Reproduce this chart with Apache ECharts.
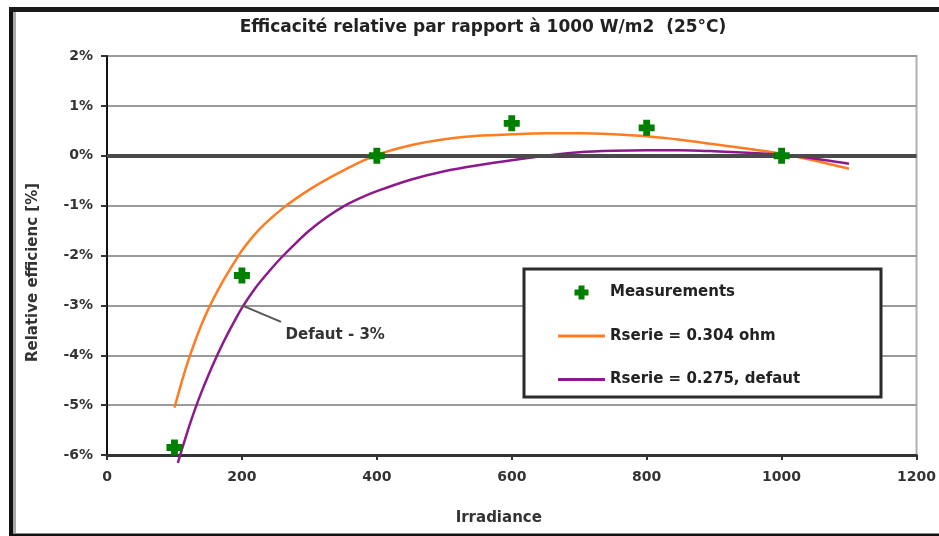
<!DOCTYPE html>
<html>
<head>
<meta charset="utf-8">
<script src="https://cdn.jsdelivr.net/npm/echarts@6/dist/echarts.min.js"></script>
<style>
  html, body { margin: 0; padding: 0; background: #fff; overflow: hidden; }
  #chart { width: 939px; height: 536px; }
</style>
</head>
<body>
<div id="chart"></div>
<script>
// Measured relative efficiency vs. irradiance (reference: 1000 W/m2, 25°C)
const measIrr = [100, 200, 400, 600, 800, 1000];
const measEff = [-5.85, -2.4, 0, 0.65, 0.56, 0];

// Model with Rserie = 0.304 ohm
const fitAIrr = [100, 110, 120, 130, 140, 150, 160, 170, 180, 190, 200, 220, 240, 260, 280, 300, 325, 350, 375, 400,
                 450, 500, 550, 600, 650, 700, 750, 800, 850, 900, 950, 1000, 1050, 1100];
const fitAEff = [-5.05, -4.57, -4.13, -3.74, -3.39, -3.08, -2.81, -2.56, -2.33, -2.11, -1.9, -1.56, -1.29, -1.06, -0.86,
                 -0.68, -0.48, -0.3, -0.13, 0.02, 0.21, 0.33, 0.4, 0.43, 0.45, 0.45, 0.43, 0.39, 0.32, 0.23, 0.14,
                 0.04, -0.1, -0.26];

// Model with Rserie = 0.275 (default)
const fitBIrr = [105, 110, 120, 130, 140, 150, 160, 170, 180, 190, 200, 220, 240, 260, 280, 300, 325, 350, 375, 400,
                 450, 500, 550, 600, 650, 700, 750, 800, 850, 900, 950, 1000, 1050, 1100];
const fitBEff = [-6.16, -5.93, -5.5, -5.1, -4.74, -4.41, -4.1, -3.81, -3.54, -3.29, -3.05, -2.65, -2.32, -2.02, -1.75,
                 -1.5, -1.24, -1.02, -0.85, -0.71, -0.48, -0.31, -0.19, -0.09, 0.0, 0.07, 0.1, 0.11, 0.11, 0.09, 0.06,
                 0.02, -0.06, -0.16];

// Annotation for the default model at 200 W/m2
const noteFrom = [200, -3.0];
const noteTo = [258, -3.33];
const noteAt = [264, -3.6];
const noteText = 'Defaut - 3%';

const xTicks = { min: 0, max: 1200, step: 200 };
const yTicks = { min: -6, max: 2, step: 1 };

const names = ['Measurements', 'Rserie = 0.304 ohm', 'Rserie = 0.275, defaut'];
const titleText = 'Efficacité relative par rapport à 1000 W/m2  (25°C)';

const FONT = '"DejaVu Sans", Arial, sans-serif';
const plusPath = 'path://M4,0H10V4H14V10H10V14H4V10H0V4H4Z';
const lineIcon = 'path://M0,0H47V3H0Z';

const zip = (xs, ys) => xs.map((x, i) => [x, ys[i]]);

const chart = echarts.init(document.getElementById('chart'), null, { renderer: 'canvas', width: 939, height: 536 });

chart.setOption({
  backgroundColor: '#fff',
  animation: false,
  title: {
    text: titleText,
    left: 478,
    textAlign: 'center',
    top: 14,
    textStyle: { fontFamily: FONT, fontSize: 17, fontWeight: 'bold', color: '#222' }
  },
  grid: {
    left: 107, right: 15, top: 56, bottom: 81,
    show: true, borderColor: '#b0b0b0', borderWidth: 2, backgroundColor: 'transparent'
  },
  xAxis: {
    type: 'value',
    min: xTicks.min, max: xTicks.max, interval: xTicks.step,
    name: 'Irradiance',
    nameLocation: 'middle',
    nameGap: 56,
    nameTextStyle: { fontFamily: FONT, fontSize: 15, fontWeight: 'bold', color: '#333', padding: [0, 26, 0, 0] },
    axisLine: { show: true, onZero: false, lineStyle: { color: '#333', width: 3 } },
    axisTick: { show: true, inside: false, length: 5, lineStyle: { color: '#333', width: 2 } },
    axisLabel: { margin: 15, fontFamily: FONT, fontSize: 14, fontWeight: 'bold', color: '#333',
                 showMaxLabel: true, formatter: v => String(v) },
    splitLine: { show: false }
  },
  yAxis: {
    type: 'value',
    min: yTicks.min, max: yTicks.max, interval: yTicks.step,
    name: 'Relative efficienc [%]',
    nameLocation: 'middle',
    nameGap: 66,
    nameRotate: 90,
    nameTextStyle: { fontFamily: FONT, fontSize: 15, fontWeight: 'bold', color: '#333', padding: [0, 34, 0, 0] },
    axisLine: { show: true, onZero: false, lineStyle: { color: '#111', width: 2 } },
    axisTick: { show: true, inside: false, length: 6, lineStyle: { color: '#333', width: 2 } },
    axisLabel: { margin: 14, fontFamily: FONT, fontSize: 14, fontWeight: 'bold', color: '#333',
                 formatter: v => v + '%' },
    splitLine: { show: true, lineStyle: { color: '#9a9a9a', width: 2 } }
  },
  legend: {
    data: [
      { name: names[0], icon: plusPath },
      { name: names[1], icon: lineIcon },
      { name: names[2], icon: lineIcon }
    ],
    orient: 'vertical',
    left: 558,
    top: 285,
    padding: 0,
    itemWidth: 47,
    itemHeight: 14,
    itemGap: 28.5,
    z: 60,
    textStyle: { fontFamily: FONT, fontSize: 15, fontWeight: 'bold', color: '#222' },
    selectedMode: false
  },
  graphic: [
    {
      type: 'rect', z: 50,
      shape: { x: 524, y: 269, width: 357, height: 128 },
      style: { fill: '#fff', stroke: '#2b2b2b', lineWidth: 3 }
    },
    // outer frame: left, top and bottom edges
    { type: 'line', z: 50, shape: { x1: 11, y1: 7, x2: 11, y2: 536 }, style: { stroke: '#111', lineWidth: 4 } },
    { type: 'line', z: 50, shape: { x1: 9, y1: 9.5, x2: 939, y2: 9.5 }, style: { stroke: '#1a1a1a', lineWidth: 5 } },
    { type: 'line', z: 50, shape: { x1: 9, y1: 535, x2: 939, y2: 535 }, style: { stroke: '#111', lineWidth: 3 } },
    { type: 'line', z: 50, shape: { x1: 14.5, y1: 12, x2: 14.5, y2: 533 }, style: { stroke: '#aaa', lineWidth: 3 } }
  ],
  series: [
    {
      // zero reference line
      type: 'line',
      data: [],
      z: 1,
      silent: true,
      markLine: {
        silent: true,
        symbol: 'none',
        label: { show: false },
        lineStyle: { color: '#4a4a4a', width: 4, type: 'solid' },
        data: [{ yAxis: 0 }]
      }
    },
    {
      name: names[1],
      type: 'line',
      data: zip(fitAIrr, fitAEff),
      smooth: 0.25,
      showSymbol: false,
      symbol: 'none',
      z: 3,
      lineStyle: { color: '#ff7d22', width: 2.5 },
      itemStyle: { color: '#ff7d22' }
    },
    {
      name: names[2],
      type: 'line',
      data: zip(fitBIrr, fitBEff),
      smooth: 0.25,
      showSymbol: false,
      symbol: 'none',
      clip: false,
      z: 3,
      lineStyle: { color: '#8c1a8c', width: 2.5 },
      itemStyle: { color: '#8c1a8c' },
      markLine: {
        silent: true,
        symbol: 'none',
        label: { show: false },
        lineStyle: { color: '#555', width: 2, type: 'solid' },
        data: [[{ coord: noteFrom }, { coord: noteTo }]]
      },
      markPoint: {
        silent: true,
        symbol: 'circle',
        symbolSize: 1,
        itemStyle: { color: 'rgba(0,0,0,0)' },
        label: {
          show: true, position: 'right', distance: 0,
          formatter: noteText,
          fontFamily: FONT, fontSize: 15, fontWeight: 'bold', color: '#333'
        },
        data: [{ coord: noteAt }]
      }
    },
    {
      name: names[0],
      type: 'scatter',
      data: zip(measIrr, measEff),
      symbol: plusPath,
      symbolSize: 16,
      clip: false,
      z: 5,
      itemStyle: { color: '#008000', opacity: 1 }
    }
  ]
});
</script>
</body>
</html>
